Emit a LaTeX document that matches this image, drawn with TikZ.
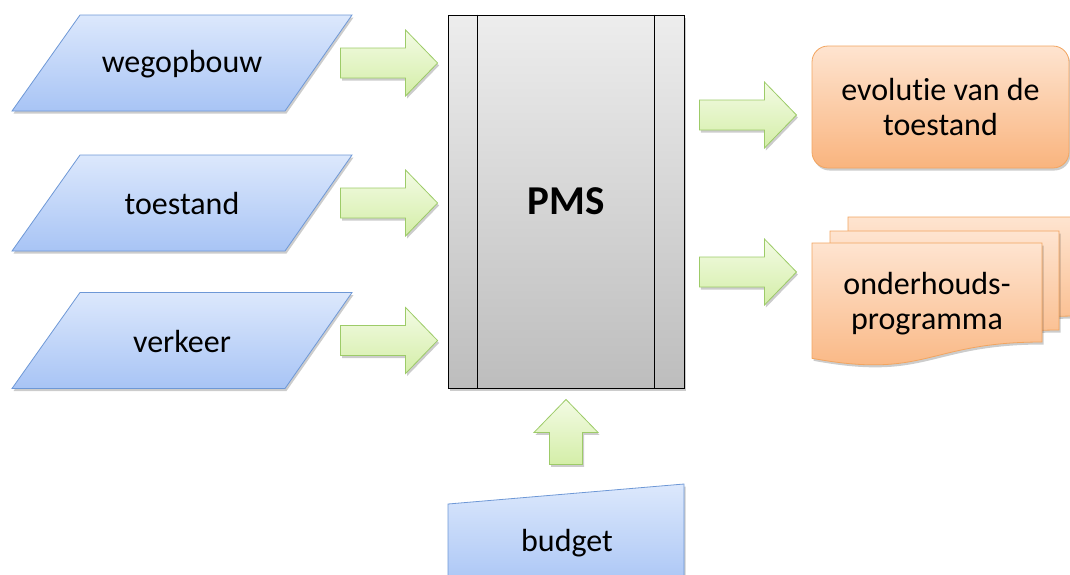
\documentclass[tikz,border=0pt]{standalone}
\usepackage{fontspec}
\setmainfont{Carlito}[Ligatures=NoCommon]
\usetikzlibrary{calc,shadows}
\definecolor{invoerboven}{HTML}{DCE8FC}
\definecolor{invoeronder}{HTML}{A8C4F5}
\definecolor{invoerrand}{HTML}{6E98D6}
\definecolor{pijlboven}{HTML}{F3FBE4}
\definecolor{pijlonder}{HTML}{D4EEA8}
\definecolor{pijlrand}{HTML}{9DCB68}
\definecolor{uitvoerboven}{HTML}{FEE4D0}
\definecolor{uitvoeronder}{HTML}{F9B47E}
\definecolor{uitvoerrand}{HTML}{F2A560}
\definecolor{pmsboven}{HTML}{EDEDED}
\definecolor{pmsonder}{HTML}{BDBDBD}

\tikzset{
  schaduw/.style={drop shadow={shadow xshift=1.5pt,shadow yshift=-2.5pt,opacity=0.2,fill=black}},
  tekst/.style={font=\fontsize{32}{35}\selectfont,align=center,inner sep=0},
  invoer/.style={draw=invoerrand,line width=0.8pt,top color=invoerboven,bottom color=invoeronder,schaduw},
  uitvoer/.style={draw=uitvoerrand,line width=0.8pt,top color=uitvoerboven,bottom color=uitvoeronder,schaduw},
  pijlvorm/.style={draw=pijlrand,line width=0.8pt,top color=pijlboven,bottom color=pijlonder,schaduw},
  invoervorm/.pic={\draw[invoer] (-102,-48) -- (170,-48) -- (103,48) -- (-170,48) -- cycle;},
  pijl/.pic={\draw[pijlvorm] (-97,-15) -- (-32,-15) -- (-32,-33) -- (0,0) -- (-32,33) -- (-32,15) -- (-97,15) -- cycle;},
  pijlop/.pic={\draw[pijlvorm] (0,0) -- (32,33) -- (16.5,33) -- (16.5,65) -- (-16.5,65) -- (-16.5,33) -- (-32,33) -- cycle;}
}

\begin{document}
\begin{tikzpicture}[x=1pt,y=-1pt,
  pmsblok/.style={draw=black,line width=0.9pt,top color=pmsboven,bottom color=pmsonder,schaduw,
    minimum width=236pt,minimum height=373pt,inner sep=0,font=\fontsize{41}{43}\selectfont\bfseries}]
  \useasboundingbox (0,0) rectangle (1070,574);
  \clip (0,0) rectangle (1070,574);
  % invoer
  \pic at (182,63) {invoervorm};
  \node[tekst] (wegopbouw) at (182,64) {wegopbouw};
  \pic at (182,203) {invoervorm};
  \node[tekst] (toestand) at (182,204) {toestand};
  \pic at (182,340.5) {invoervorm};
  \node[tekst] (verkeer) at (182,341.5) {verkeer};
  % PMS
  \node[pmsblok] (pms) at (566,201.5) {PMS};
  \draw[line width=0.9pt] ([xshift=30pt]pms.north west) -- ([xshift=30pt]pms.south west);
  \draw[line width=0.9pt] ([xshift=-30pt]pms.north east) -- ([xshift=-30pt]pms.south east);
  % budget
  \draw[invoer] (448,504) -- (684,484) -- (684,590) -- (448,590) -- cycle;
  \node[tekst] (budget) at (567,543) {budget};
  % uitvoer
  \node[uitvoer,tekst,rounded corners=16pt,minimum width=257pt,minimum height=122pt] (evolutie) at (940.5,107) {evolutie van de\\toestand};
  \draw[uitvoer] (848,217) -- (1077,217) -- (1077,316) .. controls (962.5,316) and (962.5,353.6) .. (848,332.3) -- cycle;
  \draw[uitvoer] (830,231) -- (1059,231) -- (1059,330) .. controls (944.5,330) and (944.5,367.6) .. (830,346.3) -- cycle;
  \draw[uitvoer] (812,243) -- (1042,243) -- (1042,342) .. controls (927,342) and (927,379.6) .. (812,358.3) -- cycle;
  \node[tekst] (programma) at (927,303.5) {onderhouds-\\programma};
  % pijlen
  \pic at ($(pms.west |- wegopbouw)+(-10,-1)$) {pijl};
  \pic at ($(pms.west |- toestand)+(-10,-1)$) {pijl};
  \pic at ($(pms.west |- verkeer)+(-10,-1)$) {pijl};
  \pic at ($(pms.east |- evolutie)+(112,8)$) {pijl};
  \pic at ($(pms.east |- programma)+(112,-31.5)$) {pijl};
  \pic at ($(pms.south)+(0,11)$) {pijlop};
\end{tikzpicture}
\end{document}
